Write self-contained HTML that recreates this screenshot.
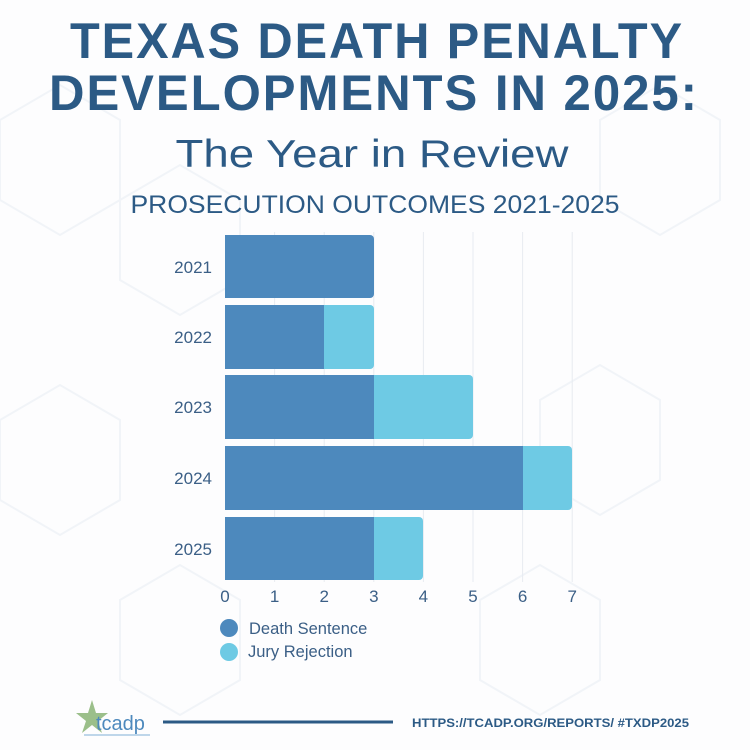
<!DOCTYPE html>
<html><head><meta charset="utf-8"><style>html,body{margin:0;padding:0;background:#fff}svg{display:block}</style></head>
<body>
<svg width="750" height="750" viewBox="0 0 750 750" xmlns="http://www.w3.org/2000/svg">
<rect width="750" height="750" fill="#fdfdfe"/>
<g stroke="#f1f4f8" stroke-width="2" fill="none">
<path d="M0 120 L60 85 L120 120 L120 200 L60 235 L0 200 Z"/>
<path d="M120 200 L180 165 L240 200 L240 280 L180 315 L120 280 Z"/>
<path d="M600 120 L660 85 L720 120 L720 200 L660 235 L600 200 Z"/>
<path d="M540 400 L600 365 L660 400 L660 480 L600 515 L540 480 Z"/>
<path d="M0 420 L60 385 L120 420 L120 500 L60 535 L0 500 Z"/>
<path d="M120 600 L180 565 L240 600 L240 680 L180 715 L120 680 Z"/>
<path d="M480 600 L540 565 L600 600 L600 680 L540 715 L480 680 Z"/>
</g>
<g font-family="Liberation Sans, sans-serif" fill="#2c5a85" text-anchor="middle">
<text x="377" y="58" font-size="50" font-weight="bold" textLength="614" lengthAdjust="spacingAndGlyphs" letter-spacing="2">TEXAS DEATH PENALTY</text>
<text x="374" y="110" font-size="50" font-weight="bold" textLength="650" lengthAdjust="spacingAndGlyphs" letter-spacing="2">DEVELOPMENTS IN 2025:</text>
<text x="372" y="167" font-size="39" textLength="393" lengthAdjust="spacingAndGlyphs">The Year in Review</text>
<text x="375" y="213" font-size="25" textLength="489" lengthAdjust="spacingAndGlyphs">PROSECUTION OUTCOMES 2021-2025</text>
</g>
<g stroke="#e8ebf1" stroke-width="1">
<line x1="274.6" y1="232" x2="274.6" y2="582"/><line x1="324.2" y1="232" x2="324.2" y2="582"/>
<line x1="373.8" y1="232" x2="373.8" y2="582"/><line x1="423.4" y1="232" x2="423.4" y2="582"/>
<line x1="473" y1="232" x2="473" y2="582"/><line x1="522.6" y1="232" x2="522.6" y2="582"/>
<line x1="572.2" y1="232" x2="572.2" y2="582"/>
</g>
<g>
<rect x="225" y="235" width="149" height="63" rx="4" fill="#4d89bd"/><rect x="225" y="235" width="10" height="63" fill="#4d89bd"/>
<rect x="225" y="305" width="149" height="64" rx="4" fill="#6ecae4"/><rect x="225" y="305" width="99" height="64" fill="#4d89bd"/>
<rect x="225" y="375" width="248" height="64" rx="4" fill="#6ecae4"/><rect x="225" y="375" width="149" height="64" fill="#4d89bd"/>
<rect x="225" y="446" width="347" height="64" rx="4" fill="#6ecae4"/><rect x="225" y="446" width="298" height="64" fill="#4d89bd"/>
<rect x="225" y="517" width="198" height="63" rx="4" fill="#6ecae4"/><rect x="225" y="517" width="149" height="63" fill="#4d89bd"/>
</g>
<g font-family="Liberation Sans, sans-serif" fill="#3b5f86" font-size="17" text-anchor="end">
<text x="212" y="273">2021</text><text x="212" y="343">2022</text><text x="212" y="413">2023</text><text x="212" y="484">2024</text><text x="212" y="555">2025</text>
</g>
<g font-family="Liberation Sans, sans-serif" fill="#3b5f86" font-size="17" text-anchor="middle">
<text x="225" y="602">0</text><text x="274.6" y="602">1</text><text x="324.2" y="602">2</text><text x="373.8" y="602">3</text><text x="423.4" y="602">4</text><text x="473" y="602">5</text><text x="522.6" y="602">6</text><text x="572.2" y="602">7</text>
</g>
<circle cx="229" cy="628" r="9" fill="#4d89bd"/><circle cx="229" cy="652" r="9" fill="#6ecae4"/>
<g font-family="Liberation Sans, sans-serif" fill="#3b5f86" font-size="16.5">
<text x="249" y="634">Death Sentence</text><text x="248" y="657">Jury Rejection</text>
</g>
<polygon points="92,700 96,713 108,713 98,721 102,733 92,725 82,733 86,721 76,713 88,713" fill="#9bbf8a"/>
<text x="96" y="730" font-family="Liberation Sans, sans-serif" font-size="20" fill="#4d89bd">tcadp</text>
<line x1="84" y1="735" x2="150" y2="735" stroke="#7fb0d6" stroke-width="1"/>
<line x1="163" y1="722" x2="393" y2="722" stroke="#2c5a85" stroke-width="3"/>
<text x="412" y="727" font-family="Liberation Sans, sans-serif" font-weight="bold" font-size="12" fill="#2c5a85" textLength="277" lengthAdjust="spacingAndGlyphs">HTTPS://TCADP.ORG/REPORTS/ #TXDP2025</text>
</svg>
</body></html>
